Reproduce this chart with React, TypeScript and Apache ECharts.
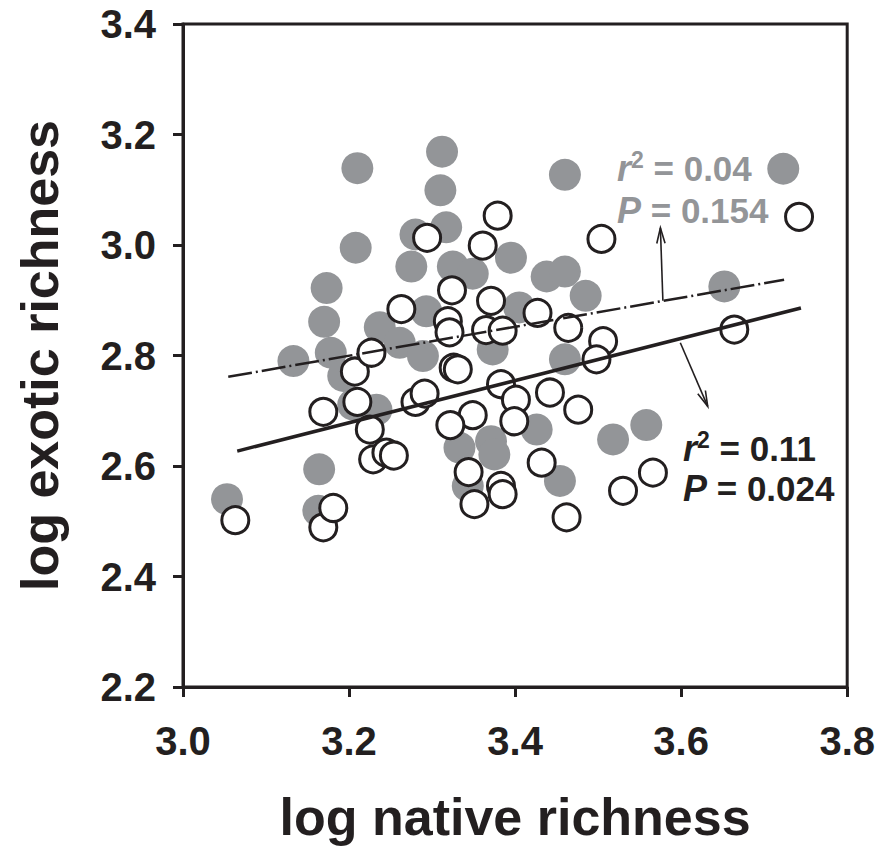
import React, { useEffect, useRef } from "react";
import * as echarts from "echarts";

const FONT = "'Liberation Sans', Arial, Helvetica, sans-serif";
const INK = "#231f20";
const GREY = "#939598";

// filled (grey) points
const GRAY_X = [3.053, 3.133, 3.163, 3.164, 3.170, 3.173, 3.208, 3.210, 3.178, 3.193, 3.237, 3.261, 3.289, 3.293, 3.280, 3.275, 3.317, 3.310, 3.312, 3.325, 3.349, 3.395, 3.373, 3.405, 3.438, 3.460, 3.485, 3.460, 3.460, 3.723, 3.652, 3.205, 3.233, 3.371, 3.333, 3.375, 3.426, 3.454, 3.343, 3.518, 3.558];
const GRAY_Y = [2.540, 2.790, 2.519, 2.594, 2.861, 2.922, 2.995, 3.139, 2.805, 2.763, 2.851, 2.823, 2.799, 2.880, 3.019, 2.961, 3.032, 3.099, 3.169, 2.961, 2.948, 2.977, 2.811, 2.887, 2.943, 2.952, 2.908, 2.793, 3.127, 3.138, 2.925, 2.711, 2.702, 2.645, 2.633, 2.621, 2.666, 2.573, 2.564, 2.648, 2.674];

// open (white) points
const OPEN_X = [3.063, 3.169, 3.181, 3.169, 3.207, 3.210, 3.227, 3.225, 3.229, 3.245, 3.254, 3.263, 3.294, 3.280, 3.291, 3.319, 3.321, 3.324, 3.326, 3.331, 3.361, 3.379, 3.371, 3.365, 3.385, 3.383, 3.401, 3.399, 3.349, 3.322, 3.344, 3.383, 3.385, 3.351, 3.427, 3.464, 3.506, 3.498, 3.504, 3.664, 3.742, 3.442, 3.476, 3.432, 3.462, 3.530, 3.566];
const OPEN_Y = [2.502, 2.489, 2.524, 2.698, 2.771, 2.716, 2.805, 2.666, 2.612, 2.624, 2.619, 2.884, 3.013, 2.716, 2.731, 2.862, 2.842, 2.918, 2.778, 2.775, 2.999, 3.053, 2.899, 2.846, 2.845, 2.748, 2.720, 2.681, 2.692, 2.674, 2.589, 2.564, 2.549, 2.531, 2.877, 2.850, 2.826, 2.793, 3.011, 2.847, 3.051, 2.733, 2.702, 2.606, 2.507, 2.555, 2.588];

// regression lines: [x, y] endpoints
const GRAY_FIT = [[3.0545, 2.7615], [3.724, 2.937]];
const OPEN_FIT = [[3.0653, 2.627], [3.7443, 2.886]];

// annotation arrows: [x1, y1, x2, y2] (head at second point)
const ARROWS = [
  [3.578, 2.899, 3.575, 3.031],
  [3.599, 2.823, 3.632, 2.708],
];

const GRAY_STATS = ["0.04", "0.154"];
const OPEN_STATS = ["0.11", "0.024"];

const X_LABEL = "log native richness";
const Y_LABEL = "log exotic richness";

function statText(kind: "r" | "P", value: string) {
  if (kind === "r") return `{i|r}{s|2}{n| = ${value}}`;
  return `{i|P}{n| = ${value}}`;
}

function richFor(color: string) {
  return {
    i: { fontFamily: FONT, fontSize: 36, fontWeight: "bold", fontStyle: "italic", fill: color, lineHeight: 40 },
    s: { fontFamily: FONT, fontSize: 23, fontWeight: "bold", fill: color, lineHeight: 23, verticalAlign: "top" },
    n: { fontFamily: FONT, fontSize: 35, fontWeight: "bold", fill: color, lineHeight: 40 },
  };
}

export default function App() {
  const ref = useRef<HTMLDivElement>(null);
  useEffect(() => {
    if (!ref.current) return;
    const chart = echarts.init(ref.current, undefined, { renderer: "svg" });
    const grayPts = GRAY_X.map((x, i) => [x, GRAY_Y[i]]);
    const openPts = OPEN_X.map((x, i) => [x, OPEN_Y[i]]);

    const axisCommon = {
      type: "value" as const,
      nameLocation: "middle" as const,
      nameTextStyle: { fontFamily: FONT, fontSize: 52, fontWeight: "bold", color: INK },
      axisLine: { show: true, onZero: false, lineStyle: { color: INK, width: 3 } },
      axisTick: { show: true, inside: false, length: 10, lineStyle: { color: INK, width: 3 } },
      splitLine: { show: false },
    };

    const mkText = (x: number, y: number, txt: string, color: string) => ({
      type: "text",
      x,
      y,
      z: 100,
      style: {
        text: txt,
        rich: richFor(color),
        fill: color,
        align: "left",
        verticalAlign: "middle",
      },
    });

    chart.setOption({
      animation: false,
      grid: {
        left: 183,
        top: 24,
        width: 665,
        height: 664,
        show: true,
        borderColor: INK,
        borderWidth: 3,
        backgroundColor: "transparent",
      },
      xAxis: {
        ...axisCommon,
        min: 3.0,
        max: 3.8,
        interval: 0.2,
        name: X_LABEL,
        nameGap: 104,
        axisLabel: {
          margin: 34,
          fontFamily: FONT,
          fontSize: 40,
          fontWeight: "bold",
          color: INK,
          formatter: (v: number) => v.toFixed(1),
        },
      },
      yAxis: {
        ...axisCommon,
        min: 2.2,
        max: 3.4,
        interval: 0.2,
        name: Y_LABEL,
        nameGap: 117,
        axisLabel: {
          margin: 27,
          fontFamily: FONT,
          fontSize: 40,
          fontWeight: "bold",
          color: INK,
          formatter: (v: number) => v.toFixed(1),
        },
      },
      series: [
        {
          type: "scatter",
          data: grayPts,
          symbol: "circle",
          symbolSize: 32,
          itemStyle: { color: GREY, opacity: 1 },
          z: 2,
        },
        {
          type: "scatter",
          data: openPts,
          symbol: "circle",
          symbolSize: 27,
          itemStyle: { color: "#ffffff", borderColor: INK, borderWidth: 3, opacity: 1 },
          z: 3,
        },
        {
          type: "line",
          data: GRAY_FIT,
          symbol: "none",
          lineStyle: { color: INK, width: 2.5, type: [24, 4, 2, 4] },
          z: 4,
        },
        {
          type: "line",
          data: OPEN_FIT,
          symbol: "none",
          lineStyle: { color: INK, width: 3.5 },
          z: 4,
        },
        {
          type: "custom",
          data: ARROWS,
          encode: { x: [0, 2], y: [1, 3] },
          z: 5,
          renderItem: (params: any, api: any) => {
            const p1 = api.coord([api.value(0), api.value(1)]);
            const p2 = api.coord([api.value(2), api.value(3)]);
            const ang = Math.atan2(p2[1] - p1[1], p2[0] - p1[0]);
            const L = 16;
            const a = (15 * Math.PI) / 180;
            const h1 = [p2[0] - L * Math.cos(ang - a), p2[1] - L * Math.sin(ang - a)];
            const h2 = [p2[0] - L * Math.cos(ang + a), p2[1] - L * Math.sin(ang + a)];
            return {
              type: "group",
              children: [
                { type: "line", shape: { x1: p1[0], y1: p1[1], x2: p2[0], y2: p2[1] }, style: { stroke: INK, lineWidth: 1.6 } },
                { type: "polyline", shape: { points: [h1, p2, h2] }, style: { stroke: INK, lineWidth: 1.6, fill: null } },
              ],
            };
          },
        },
      ],
      graphic: [
        mkText(617, 168, statText("r", GRAY_STATS[0]), GREY),
        mkText(617, 210, statText("P", GRAY_STATS[1]), GREY),
        mkText(683, 448, statText("r", OPEN_STATS[0]), INK),
        mkText(683, 488, statText("P", OPEN_STATS[1]), INK),
      ],
    });
    return () => chart.dispose();
  }, []);
  return (
    <div
      ref={ref}
      style={{ position: "fixed", left: 0, top: 0, width: 878, height: 848, background: "#ffffff" }}
    />
  );
}
